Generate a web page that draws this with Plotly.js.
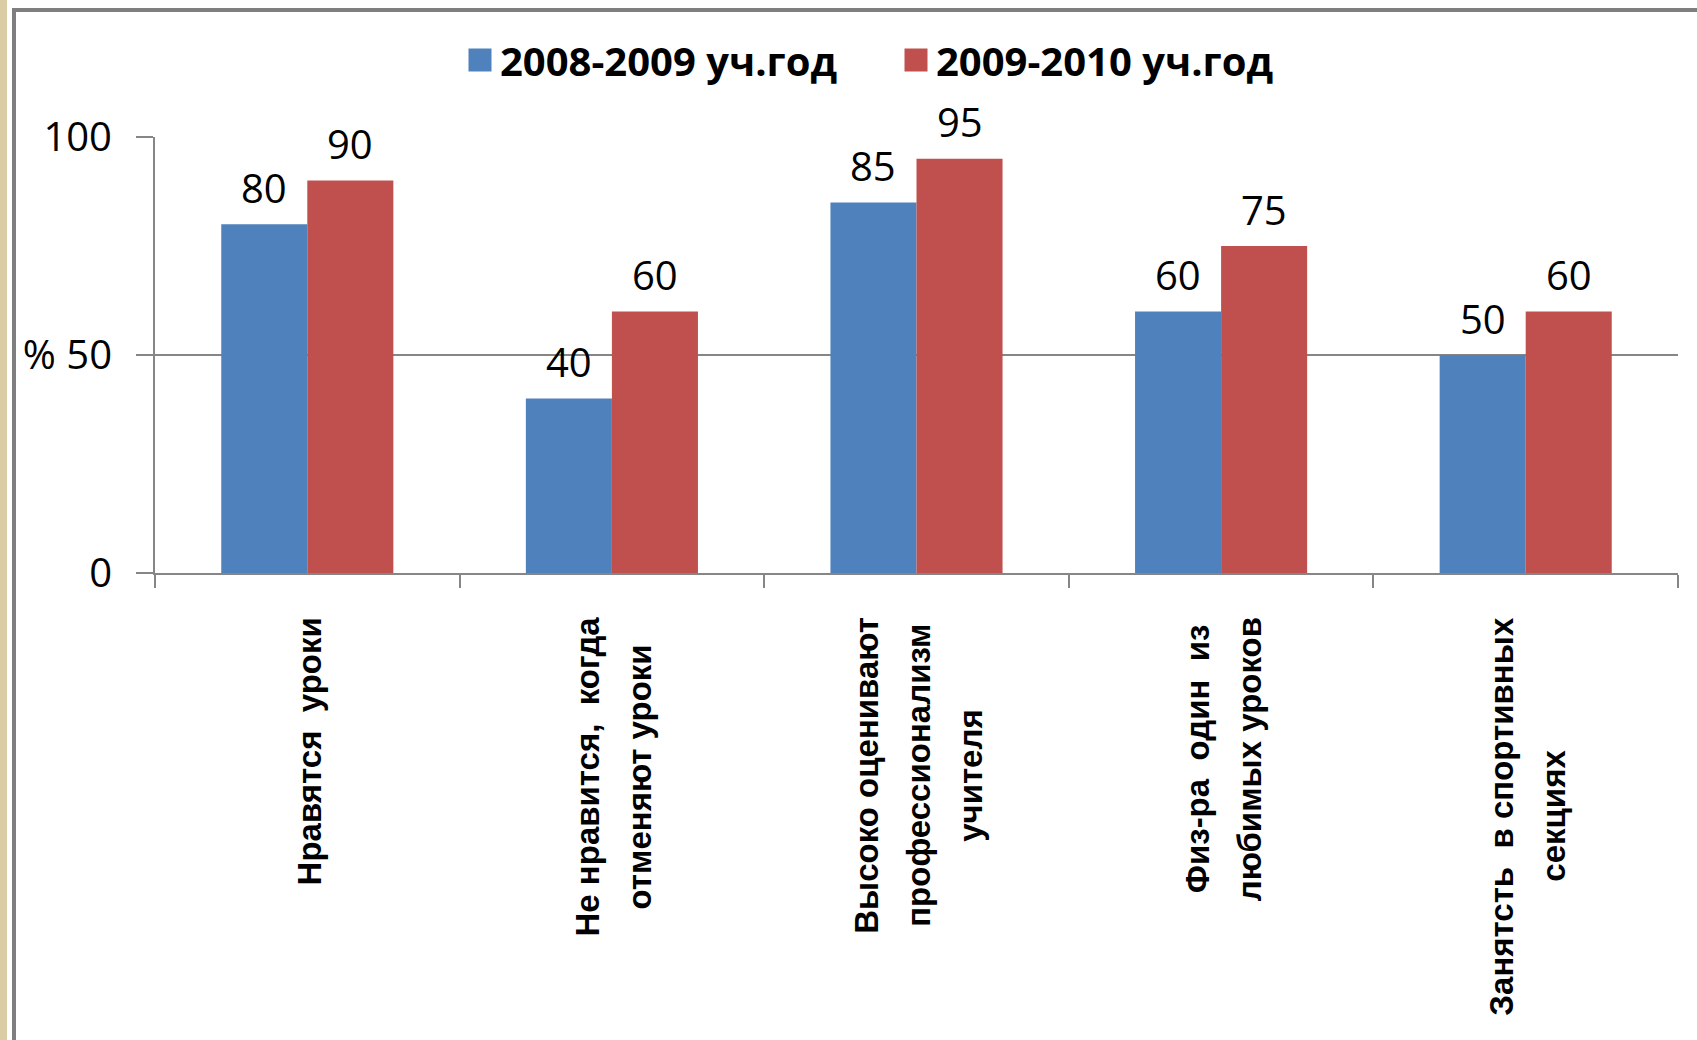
<!DOCTYPE html>
<html><head><meta charset="utf-8">
<script src="https://cdn.plot.ly/plotly-3.0.1.min.js"></script>
<style>html,body{margin:0;padding:0;background:#fff}#chart{width:1697px;height:1040px}</style>
</head><body><div id="chart"></div>
<script>
// ---- data ----
const categories = ["Нравятся  уроки", "Не нравится,  когда<br>отменяют уроки", "Высоко оценивают<br>профессионализм<br>учителя", "Физ-ра  один  из<br>любимых уроков", "Занятсть  в спортивных<br>секциях"];
const series2008 = [80, 40, 85, 60, 50];
const series2009 = [90, 60, 95, 75, 60];
const seriesNames = ["2008-2009 уч.год", "2009-2010 уч.год"];
const yTickVals = [0, 50, 100];
const yTickText = ["0", "% 50", "100"];

// ---- styling / geometry ----
const W = 1697, H = 1040, L = 155, R = 19, T = 137, B = 467;
const pw = W - L - R, ph = H - T - B;
const px2x = p => (p - L) / pw;
const py2y = p => (H - B - p) / ph;
const BARGAP = 0.435;
const barPx = pw / categories.length * (1 - BARGAP) / 2;
const colors = ["#4F81BD", "#C0504D"];
const grey = "#868686";
const catFont = {family: "Liberation Sans, Arial, sans-serif", size: 33, color: "#000", weight: "bold"};
const numFont = {family: "Open Sans, sans-serif", size: 40, color: "#000"};

const traces = [series2008, series2009].map((vals, i) => ({
  type: "bar", x: categories, y: vals, name: seriesNames[i],
  marker: {color: colors[i], line: {width: 0}}, hoverinfo: "skip"
}));

const annotations = [];
// value labels
[series2008, series2009].forEach((vals, s) => {
  vals.forEach((v, i) => {
    annotations.push({x: categories[i], y: v, xref: "x", yref: "y", text: String(v),
      showarrow: false, font: numFont, xanchor: "center", yanchor: "middle",
      xshift: (s === 0 ? -1 : 1) * barPx / 2, yshift: 37});
  });
});
// category labels, rotated, centered lines, block top-aligned under axis
const cv = document.createElement("canvas").getContext("2d");
cv.font = "bold 33px 'Liberation Sans'";
const LINE_STEP = 52;
categories.forEach((c, i) => {
  const lines = c.split("<br>");
  const maxLen = Math.max(...lines.map(t => cv.measureText(t).width));
  lines.forEach((t, j) => {
    annotations.push({x: c, y: 0, xref: "x", yref: "paper", text: t, showarrow: false,
      textangle: -90, font: catFont, xanchor: "center", yanchor: "middle",
      xshift: (j - (lines.length - 1) / 2) * LINE_STEP + 2,
      yshift: -44 - maxLen / 2});
  });
});

const shapes = [
  {type: "rect", xref: "paper", yref: "paper", x0: px2x(0), x1: px2x(7), y0: py2y(H), y1: py2y(0),
   fillcolor: "#dacda6", line: {width: 0}, layer: "below"},
  {type: "line", xref: "paper", yref: "paper", x0: px2x(14), x1: px2x(14), y0: py2y(8), y1: py2y(H),
   line: {color: "#7f7f7f", width: 4}},
  {type: "line", xref: "paper", yref: "paper", x0: px2x(12), x1: px2x(W), y0: py2y(10), y1: py2y(10),
   line: {color: "#7f7f7f", width: 4}}
];

const layout = {
  width: W, height: H,
  margin: {l: L, r: R, t: T, b: B, pad: 0},
  paper_bgcolor: "#fff", plot_bgcolor: "#fff",
  barmode: "group", bargap: BARGAP, bargroupgap: 0,
  showlegend: true,
  legend: {orientation: "h", xref: "container", yref: "container", x: 460 / W, y: 1 - 60 / H,
    xanchor: "left", yanchor: "middle", entrywidth: 391, entrywidthmode: "pixels",
    font: {family: "Open Sans, sans-serif", size: 40, color: "#000", weight: "bold"},
    bgcolor: "rgba(0,0,0,0)", traceorder: "normal"},
  xaxis: {type: "category", showticklabels: false, showgrid: false, zeroline: false,
    showline: true, linecolor: grey, linewidth: 2,
    ticks: "outside", tickson: "boundaries", ticklen: 13, tickwidth: 2, tickcolor: grey,
    fixedrange: true},
  yaxis: {range: [0, 100], tickvals: yTickVals, ticktext: yTickText, tickfont: numFont,
    showgrid: true, gridcolor: grey, gridwidth: 2, zeroline: false,
    showline: true, linecolor: grey, linewidth: 2,
    ticks: "outside", ticklen: 17, tickwidth: 2, tickcolor: grey, ticklabelstandoff: 16,
    fixedrange: true},
  annotations: annotations,
  shapes: shapes
};

Plotly.newPlot("chart", traces, layout, {staticPlot: true, displayModeBar: false}).then(() => {
  document.querySelectorAll(".legendbar, .legendpoints path").forEach(p => {
    p.setAttribute("d", "M11.5,11.5H-11.5V-11.5H11.5Z");
  });
});
</script>
</body></html>
